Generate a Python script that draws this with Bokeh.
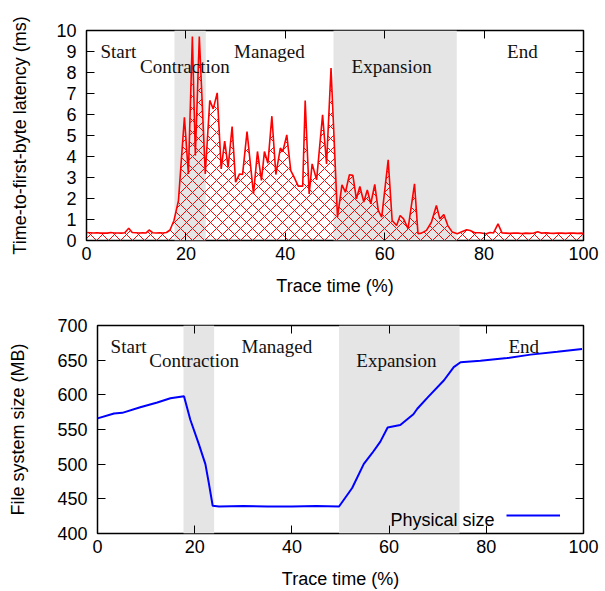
from bokeh.plotting import figure
from bokeh.models import (BoxAnnotation, Label, LinearAxis, FixedTicker, Legend,
                          LegendItem, Range1d, CustomJSTickFormatter)
from bokeh.layouts import column, row
from bokeh.embed import file_html
from bokeh.resources import INLINE

# ---------------- data ----------------
phases = ["Start", "Contraction", "Managed", "Expansion", "End"]
contraction_span = [17.7, 24.0]
expansion_span = [49.7, 74.5]

lat_time = [0.0, 0.7, 1.4, 2.1, 2.8, 3.5, 4.2, 4.9, 5.6, 6.3, 7.0, 7.7, 8.5, 9.2,
            9.9, 10.6, 11.3, 12.0, 12.6, 13.3, 14.0, 14.7, 15.4, 16.1, 16.8, 17.6,
            18.5, 19.7, 20.5, 21.3, 21.9, 22.7, 23.9, 24.8, 25.5, 26.3, 27.1, 27.8,
            28.5, 29.3, 30.0, 30.8, 31.4, 32.3, 33.6, 34.4, 35.2, 35.8, 36.5, 37.3,
            38.1, 39.0, 39.5, 40.3, 41.1, 41.6, 42.6, 43.5, 44.0, 44.8, 45.4, 46.3,
            47.5, 48.3, 49.2, 50.5, 51.4, 52.1, 52.9, 53.6, 54.3, 55.0, 55.8, 56.5,
            57.2, 58.0, 58.7, 59.4, 60.7, 61.5, 62.4, 63.1, 63.8, 64.7, 66.0, 66.7,
            67.4, 68.4, 69.4, 70.4, 71.1, 71.9, 72.7, 73.6, 74.6, 75.4, 76.5, 77.2,
            78.1, 79.1, 80.4, 81.2, 81.9, 82.8, 83.6, 84.4, 85.2, 86.0, 86.8, 87.6,
            88.4, 89.2, 90.0, 90.8, 91.6, 92.4, 93.2, 94.0, 94.8, 95.6, 96.4, 97.2,
            98.0, 98.8, 99.6, 100.0]
lat_ms = [0.38, 0.37, 0.36, 0.37, 0.35, 0.36, 0.35, 0.38, 0.36, 0.36, 0.35, 0.37, 0.58, 0.38,
          0.37, 0.36, 0.37, 0.36, 0.50, 0.37, 0.36, 0.37, 0.36, 0.38, 0.50, 0.95,
          1.90, 5.87, 3.17, 9.71, 4.05, 9.71, 3.17, 6.67, 6.27, 7.03, 3.41, 4.73,
          3.49, 5.43, 2.78, 3.17, 3.14, 5.19, 2.22, 4.24, 2.86, 4.24, 3.68, 5.92,
          3.14, 4.40, 4.24, 5.03, 3.33, 3.10, 2.59, 2.59, 6.67, 2.22, 3.65, 2.89,
          5.98, 3.65, 8.21, 1.11, 2.65, 2.30, 3.13, 3.10, 1.98, 2.57, 1.83, 2.41,
          1.75, 2.67, 1.43, 1.11, 3.84, 0.95, 0.71, 1.19, 1.03, 0.56, 2.70, 0.32,
          0.35, 0.48, 0.87, 1.67, 1.03, 1.24, 0.71, 0.40, 0.32, 0.40, 0.51, 0.48,
          0.37, 0.37, 0.32, 0.38, 0.36, 0.79, 0.36, 0.35, 0.34, 0.36, 0.35, 0.33,
          0.35, 0.34, 0.36, 0.42, 0.35, 0.37, 0.35, 0.34, 0.36, 0.35, 0.34, 0.36,
          0.35, 0.34, 0.35, 0.33]

fs_time = [0, 3.4, 5.1, 8.8, 12.3, 15.0, 17.8, 19.1, 20.8, 22.2, 22.9, 23.7, 25, 30,
           35, 40, 45, 49.7, 52.4, 54.8, 56.5, 58.2, 59.7, 62.3, 65.0, 65.8, 67.9,
           71.3, 73.3, 74.7, 78.8, 84.3, 89.1, 94.6, 99.7]
fs_mb = [566, 573, 574, 582, 589, 595, 598, 564, 530, 500, 473, 440, 439, 439.5,
         439, 439, 439.5, 439, 465.6, 500.5, 515.8, 532.5, 553, 556.4, 572, 580, 596,
         621, 640, 647, 649, 653, 658, 662, 666]
series_name = "Physical size"

x_ticks = [0, 20, 40, 60, 80, 100]
lat_ticks = list(range(0, 11))
fs_ticks = [400, 450, 500, 550, 600, 650, 700]

SANS = "Liberation Sans"
SERIF = "Liberation Serif"


def style(p, xt, yt, xlabel, ylabel, ylab_standoff):
    bottom = p.below[0]
    left = p.left[0]
    p.outline_line_color = "black"
    p.outline_line_width = 1.5
    p.outline_line_alpha = 1
    p.xgrid.visible = False
    p.ygrid.visible = False
    bottom.ticker = FixedTicker(ticks=xt)
    left.ticker = FixedTicker(ticks=yt)
    blank = CustomJSTickFormatter(code="return ''")
    top = LinearAxis(ticker=FixedTicker(ticks=xt), formatter=blank)
    right = LinearAxis(ticker=FixedTicker(ticks=yt), formatter=blank)
    p.add_layout(top, "above")
    p.add_layout(right, "right")
    for ax in (bottom, left, top, right):
        ax.major_tick_in = 8
        ax.major_tick_out = 0
        ax.minor_tick_line_color = None
        ax.major_tick_line_color = "black"
        ax.major_tick_line_width = 1
        ax.axis_line_color = None
        ax.major_label_text_font = SANS
        ax.major_label_text_font_size = "18px"
        ax.major_label_text_color = "black"
        ax.axis_label_text_font = SANS
        ax.axis_label_text_font_size = "18px"
        ax.axis_label_text_font_style = "normal"
        ax.axis_label_text_color = "black"
    for ax in (top, right):
        ax.major_label_text_font_size = "1px"
        ax.major_label_standoff = 0
    bottom.major_label_standoff = 6
    left.major_label_standoff = 10
    bottom.axis_label = xlabel
    left.axis_label = ylabel
    bottom.axis_label_standoff = 13
    left.axis_label_standoff = ylab_standoff
    return bottom, left


def bands(p):
    for lo, hi in (contraction_span, expansion_span):
        p.add_layout(BoxAnnotation(left=lo, right=hi, fill_color="#e5e5e5",
                                   fill_alpha=1, line_color=None, level="underlay"))


def phase_labels(p, xs, ys, aligns):
    for name, x, y, a in zip(phases, xs, ys, aligns):
        p.add_layout(Label(x=x, y=y, text=name, text_font=SERIF,
                           text_font_size="19px", text_align=a,
                           text_baseline="alphabetic", text_color="#111111"))


aligns = ["left", "center", "center", "center", "center"]

# ---------------- top figure ----------------
p1 = figure(width=600, height=298, output_backend="svg",
            toolbar_location=None, x_range=Range1d(0, 100), y_range=Range1d(0, 10),
            min_border_left=86, min_border_right=17, min_border_top=30,
            min_border_bottom=58, background_fill_color="white")
style(p1, x_ticks, lat_ticks, "Trace time (%)", "Time-to-first-byte latency (ms)", 23)
bands(p1)
p1.varea(x=lat_time, y1=0, y2=lat_ms, fill_color=None, fill_alpha=0,
         hatch_pattern="diagonal_cross", hatch_color="red", hatch_scale=12,
         hatch_weight=1)
p1.line(lat_time, lat_ms, line_color="red", line_width=1.6)
phase_labels(p1, [2.8, 19.8, 36.8, 61.4, 87.7], [9.0, 8.29, 9.0, 8.29, 9.0], aligns)

# ---------------- bottom figure ----------------
p2 = figure(width=600, height=293, output_backend="svg",
            toolbar_location=None, x_range=Range1d(0, 100), y_range=Range1d(400, 700),
            min_border_left=97, min_border_right=17, min_border_top=27,
            min_border_bottom=57, background_fill_color="white")
style(p2, x_ticks, fs_ticks, "Trace time (%)", "File system size (MB)", 26)
bands(p2)
r = p2.line(fs_time, fs_mb, line_color="blue", line_width=2)
phase_labels(p2, [2.7, 19.9, 36.9, 61.5, 87.7], [670, 650, 670, 650, 670], aligns)

leg = Legend(items=[LegendItem(label="", renderers=[r])],
             location=(409, 8), padding=0, margin=0, glyph_width=54,
             glyph_height=20, label_height=20, label_width=0, label_standoff=0,
             background_fill_alpha=0, border_line_color=None,
             label_text_font=SANS, label_text_font_size="18px")
p2.add_layout(leg)
p2.add_layout(Label(x=81.7, y=419, text=series_name, text_font=SANS,
                    text_font_size="18px", text_align="right",
                    text_baseline="alphabetic", text_color="black"))

layout = column(row(p1), row(p2), spacing=0)
open("out.html", "w").write(file_html(layout, INLINE))
